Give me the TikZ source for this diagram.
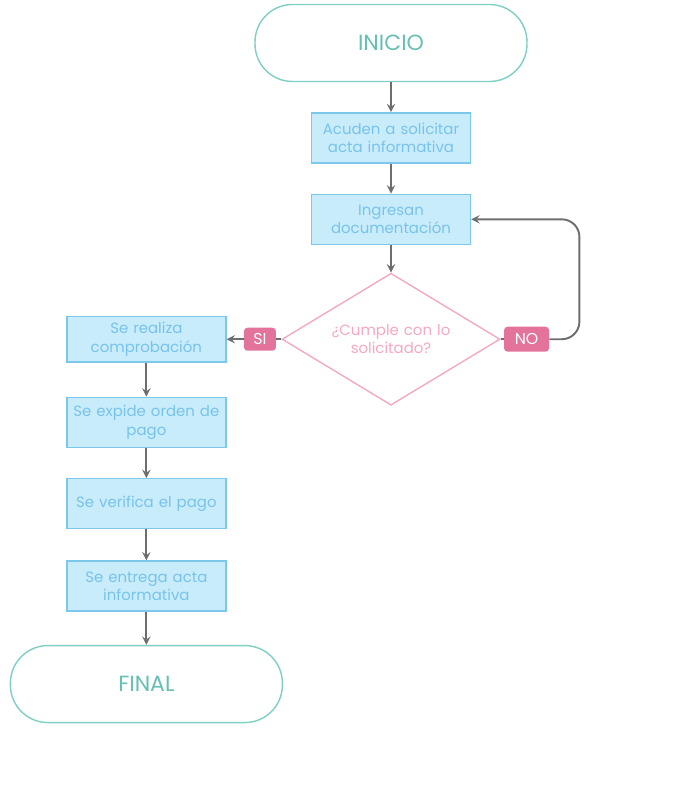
\documentclass[tikz,border=0pt]{standalone}
\usepackage{fontspec}
\setmainfont{Poppins}
\usepackage{tikz}
\usetikzlibrary{shapes.geometric, arrows, positioning}
\definecolor{tealline}{HTML}{7FCFC5}
\definecolor{tealtext}{HTML}{66BFB3}
\definecolor{boxfill}{HTML}{C8ECFA}
\definecolor{boxline}{HTML}{7CC8EA}
\definecolor{boxtext}{HTML}{78C3EA}
\definecolor{pinkline}{HTML}{F4A8C3}
\definecolor{pinkfill}{HTML}{E3739B}
\definecolor{arrowgray}{HTML}{6E6E6E}
\tikzstyle{terminal} = [rectangle, rounded corners=0.75cm, minimum width=5.44cm, minimum height=1.54cm, text centered, draw=tealline, line width=0.8pt, text=tealtext, font=\fontsize{12.5}{14}\selectfont]
\tikzstyle{process} = [rectangle, minimum width=3.18cm, minimum height=1cm, inner xsep=1pt, text width=3.1cm, align=center, draw=boxline, fill=boxfill, line width=0.8pt, text=boxtext, font=\fontsize{8.5}{10.5}\selectfont]
\tikzstyle{decision} = [diamond, aspect=1.65, minimum width=4.36cm, minimum height=2.64cm, inner sep=0pt, text width=2.8cm, align=center, draw=pinkline, line width=0.8pt, text=pinkline, font=\fontsize{8.5}{10.5}\selectfont]
\tikzstyle{tag} = [rectangle, rounded corners=2pt, minimum height=0.45cm, inner xsep=3pt, fill=pinkfill, text=white, font=\fontsize{9}{10}\selectfont]
\tikzstyle{arrow} = [line width=1.1pt,->,>=stealth, draw=arrowgray]
\tikzstyle{link} = [line width=1.1pt, draw=arrowgray]

\begin{document}
\begin{tikzpicture}
\useasboundingbox (0,0) rectangle (13.46,-16.22);
\node (inicio) [terminal] at (7.82,-0.86) {INICIO};
\node (acuden) [process, below=0.6cm of inicio] {Acuden a solicitar\\acta informativa};
\node (ingresan) [process, below=0.6cm of acuden] {Ingresan\\documentación};
\node (cumple) [decision, below=0.55cm of ingresan] {¿Cumple con lo\\solicitado?};
\node (si) [tag, minimum width=0.64cm, left=0.1cm of cumple] {SI};
\node (no) [tag, minimum width=0.9cm, minimum height=0.5cm, right=0.06cm of cumple] {NO};
\node (realiza) [process, minimum height=0.9cm, left=0.34cm of si] {Se realiza\\comprobación};
\node (expide) [process, below=0.68cm of realiza] {Se expide orden de\\pago};
\node (verifica) [process, below=0.6cm of expide] {Se verifica el pago};
\node (entrega) [process, below=0.62cm of verifica] {Se entrega acta\\informativa};
\node (final) [terminal, below=0.66cm of entrega] {FINAL};
\draw [arrow] (inicio) -- (acuden);
\draw [arrow] (acuden) -- (ingresan);
\draw [arrow] (ingresan) -- (cumple);
\draw [link] (cumple) -- (si);
\draw [arrow] (si) -- (realiza);
\draw [link] (cumple) -- (no);
\draw [arrow, rounded corners=10pt] (no.east) -- ++(0.6,0) |- (ingresan.east);
\draw [arrow] (realiza) -- (expide);
\draw [arrow] (expide) -- (verifica);
\draw [arrow] (verifica) -- (entrega);
\draw [arrow] (entrega) -- (final);
\end{tikzpicture}
\end{document}
